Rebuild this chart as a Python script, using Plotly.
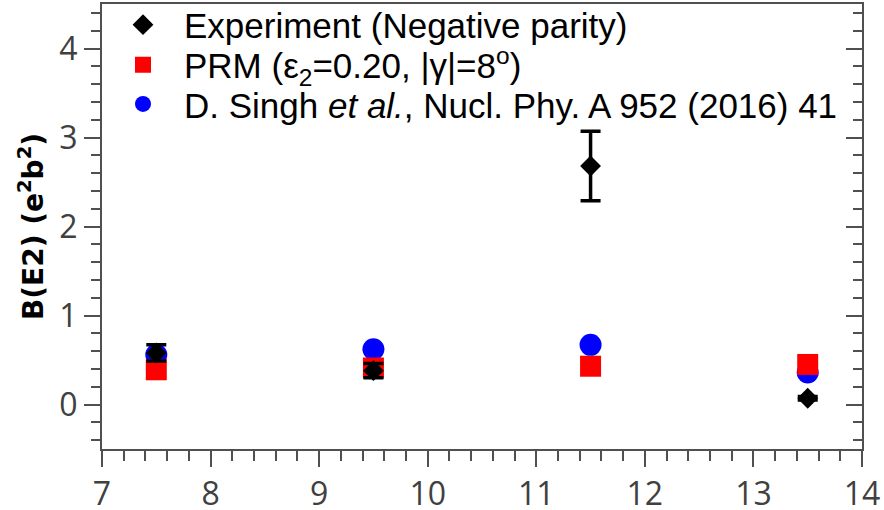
import plotly.graph_objects as go

# Spin values (x) and B(E2) values for each data set
spin = [7.5, 9.5, 11.5, 13.5]

exp_be2 = [0.58, 0.38, 2.68, 0.07]
exp_err = [0.09, 0.08, 0.39, 0.02]

prm_be2 = [0.39, 0.41, 0.43, 0.45]

singh_be2 = [0.56, 0.62, 0.67, 0.36]

x_ticks = [7, 8, 9, 10, 11, 12, 13, 14]
y_ticks = [0, 1, 2, 3, 4]

fig = go.Figure()

fig.add_trace(go.Scatter(
    x=spin, y=singh_be2, mode="markers",
    name="D. Singh <i>et al.</i>, Nucl. Phy. A 952 (2016) 41",
    marker=dict(symbol="circle", size=22, color="#0000ff", line=dict(width=0)),
    legend="legend3",
))
fig.add_trace(go.Scatter(
    x=spin, y=prm_be2, mode="markers",
    name="PRM (ε<sub>2</sub>=0.20, |γ|=8<sup>o</sup>)",
    marker=dict(symbol="square", size=21, color="#ff0000", line=dict(width=0)),
    legend="legend2",
))
fig.add_trace(go.Scatter(
    x=spin, y=exp_be2, mode="markers",
    name="Experiment (Negative parity)",
    marker=dict(symbol="diamond", size=16, color="#000000", line=dict(width=0)),
    error_y=dict(type="data", array=exp_err, visible=True, color="#000000",
                 thickness=3.5, width=10),
    legend="legend",
))

# invisible trace so the right-hand tick axis is rendered
fig.add_trace(go.Scatter(x=[spin[0]], y=[exp_be2[0]], yaxis="y2", mode="markers",
                         marker=dict(opacity=0), showlegend=False, hoverinfo="skip"))

axis_color = "#505050"
tick_font = dict(family="Open Sans", size=32, color="#404040")
legend_font = dict(family="Liberation Sans", size=35, color="#000000")


def legend_box(ypos):
    return dict(
        x=0.0, y=ypos, xanchor="left", yanchor="middle",
        font=legend_font, bgcolor="rgba(0,0,0,0)", itemwidth=72,
    )


fig.update_layout(
    width=884, height=510,
    margin=dict(l=102, r=22, t=4, b=61, autoexpand=False),
    paper_bgcolor="white", plot_bgcolor="white",
    showlegend=True,
    legend=legend_box(0.953),
    legend2=legend_box(0.863),
    legend3=legend_box(0.775),
    xaxis=dict(
        range=[7, 14], tickvals=x_ticks, ticktext=[str(v) for v in x_ticks],
        ticks="outside", ticklen=16, tickwidth=2, tickcolor=axis_color,
        minor=dict(dtick=0.2, ticks="outside", ticklen=10, tickwidth=2, tickcolor=axis_color),
        showline=True, linecolor=axis_color, linewidth=2, mirror=True,
        showgrid=False, zeroline=False, tickfont=tick_font, automargin=False,
    ),
    yaxis=dict(
        range=[-0.5, 4.5], tickvals=y_ticks, ticktext=[str(v) for v in y_ticks],
        ticks="outside", ticklen=16, tickwidth=2, tickcolor=axis_color,
        minor=dict(dtick=0.2, tick0=0, ticks="outside", ticklen=9, tickwidth=2, tickcolor=axis_color),
        showline=True, linecolor=axis_color, linewidth=2, mirror=True,
        showgrid=False, zeroline=False, tickfont=tick_font, automargin=False,
        title=dict(text="<b>B(E2) (e<sup>2</sup>b<sup>2</sup>)</b>",
                   font=dict(family="DejaVu Sans", size=28, color="#000000"),
                   standoff=8),
    ),
    yaxis2=dict(
        range=[-0.5, 4.5], overlaying="y", side="right", anchor="x",
        tickvals=y_ticks, showticklabels=False,
        ticks="inside", ticklen=16, tickwidth=2, tickcolor=axis_color,
        minor=dict(dtick=0.2, tick0=0, ticks="inside", ticklen=9, tickwidth=2, tickcolor=axis_color),
        showline=False, showgrid=False, zeroline=False, automargin=False,
    ),
)

fig.write_html("out.html")
